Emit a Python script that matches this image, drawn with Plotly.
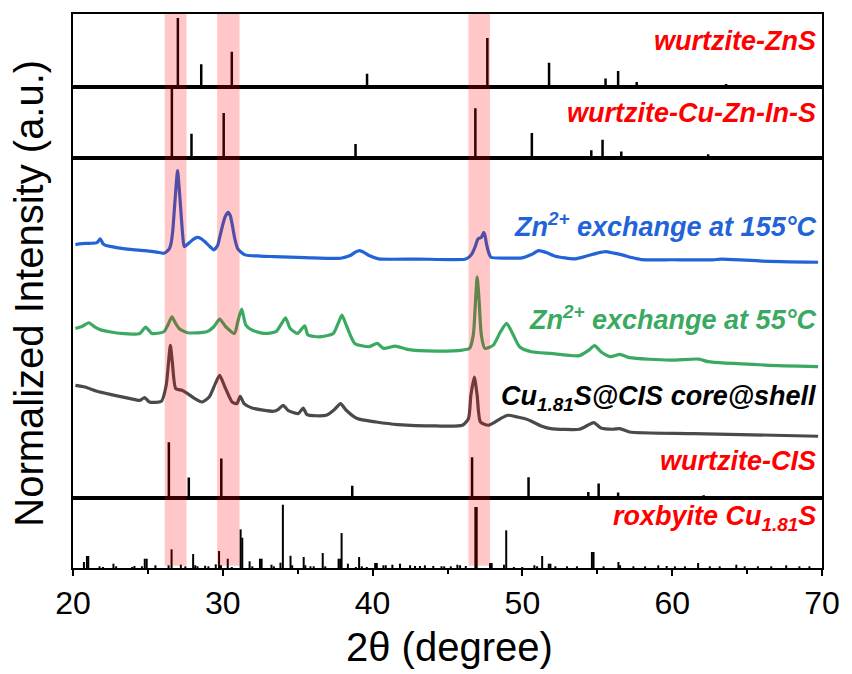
import plotly.graph_objects as go
from plotly.subplots import make_subplots

# ---------------- data ----------------
# reference stick patterns (2theta, relative intensity, 100 = strongest)
zns_pos = [27.0, 28.56, 30.6, 39.63, 47.66, 51.78, 55.55, 56.39, 57.63, 58.9, 63.6, 66.0, 69.4]
zns_int = [100, 33, 51, 19, 71, 35, 12, 23, 7, 1.5, 4, 1.5, 1.5]

czis_pos = [26.6, 27.91, 30.06, 38.86, 46.86, 50.63, 54.6, 55.35, 56.6, 57.5, 62.4, 64.4]
czis_int = [100, 35, 65, 20, 72, 36, 11, 26, 9, 1.5, 5, 1.5]

cis_pos = [26.4, 27.73, 29.9, 38.64, 46.64, 50.41, 54.4, 55.09, 56.39, 57.2, 62.1, 64.1]
cis_int = [100, 37, 71, 22, 73, 37.5, 11, 26, 10, 2, 5, 2]

rox_pos = [20.73, 20.93, 21.02, 21.77, 22.0, 22.7, 22.88, 23.95, 24.1, 24.6, 24.79, 24.92,
           25.5, 26.38, 26.58, 27.2, 27.5, 28.02, 28.16, 28.31, 28.82, 29.04, 29.53, 29.75,
           29.88, 30.33, 30.6, 31.19, 31.3, 31.79, 31.97, 32.48, 32.59, 33.25, 33.41, 33.85,
           34.01, 34.52, 34.63, 35.4, 35.51, 35.85, 36.07, 36.67, 36.84, 37.73, 37.84, 37.93,
           38.35, 38.88, 39.1, 39.28, 39.61, 40.17, 40.28, 40.72, 40.88, 41.32, 41.83, 42.5,
           42.83, 43.16, 43.49, 44.05, 44.6, 44.78, 45.22, 45.66, 45.84, 46.22, 46.86, 46.95,
           47.84, 47.95, 48.77, 48.92, 49.43, 49.99, 50.8, 50.98, 51.32, 51.76, 51.87, 52.2,
           52.98, 53.64, 54.64, 54.75, 55.42, 56.41, 56.52, 57.41, 58.19, 59.07, 59.63, 60.18,
           60.85, 61.73, 62.51, 63.17, 64.28, 64.84, 65.72, 66.61, 67.61, 68.49, 69.16]
rox_int = [9.5, 19, 19, 2.7, 1.6, 6.8, 2.7, 1.6, 3.2, 2.7, 14.7, 14.7,
           4.3, 4.3, 29.5, 5.2, 2.7, 22.1, 4.3, 2.7, 3.6, 2.7, 5.8, 26.9,
           4.3, 14.7, 1.6, 61.1, 47.9, 10.6, 2.7, 14.7, 14.7, 5.2, 2.7, 8.4,
           100, 19.4, 4.3, 17.4, 4.3, 2.7, 2.7, 23.7, 2.7, 14.7, 14.7, 55.3,
           6.8, 1.6, 17.4, 2.7, 1.6, 7.9, 7.9, 4.3, 4.3, 5.2, 6.8, 4.3,
           3.2, 3.2, 4.3, 3.2, 2.7, 2.7, 2.7, 5.2, 4.3, 3.2, 96.4, 96.4,
           7.9, 7.9, 5.2, 59.6, 1.6, 1.6, 4.3, 2.7, 19, 6.8, 6.8, 2.7,
           2.7, 2.7, 25.3, 25.3, 2.7, 9.5, 4.3, 2.7, 2.7, 4.3, 3.2, 2.7,
           2.7, 7.9, 2.7, 2.7, 5.2, 2.7, 2.7, 2.7, 4.3, 2.7, 2.7]

# measured patterns (normalized intensity, stacked with offsets)
blue_tt = [20.16, 20.6, 21.1, 21.6, 21.82, 22.0, 22.2, 22.6, 23.0, 24.0, 24.8, 25.6, 26.06, 26.4,
           26.54, 26.66, 26.76, 26.88, 26.98, 27.08, 27.2, 27.32, 27.43, 27.8, 28.05, 28.29,
           28.55, 28.77, 29.1, 29.4, 29.65, 29.82, 30.0, 30.14, 30.36, 30.5, 30.62, 30.8, 31.0,
           31.48, 32.5, 33.4, 35.5, 37.86, 38.5, 38.85, 39.13, 39.45, 39.77, 40.4, 43.0, 46.15,
           46.4, 46.63, 46.85, 47.04, 47.26, 47.42, 47.52, 47.6, 47.75, 47.9, 48.8, 49.97, 50.6,
           51.09, 51.6, 52.2, 53.5, 54.4, 55.0, 55.55, 56.1, 56.67, 57.3, 57.95, 60.0, 62.7,
           63.3, 66.0, 69.74]
blue_int = [254, 255, 255.3, 256, 259.7, 255, 253, 252, 250.7, 249, 248, 246.5, 245.3, 249,
            254.7, 268, 288, 312, 328, 312, 288, 264, 252, 256.3, 259.5, 261.3,
            260, 257.3, 252.5, 248.7, 253, 263, 274, 281.3, 286.3, 283, 274.7, 260, 249.7,
            243.7, 242.5, 242, 241, 240.3, 243, 246.5, 248, 246, 243, 239.7, 239.5, 239.3,
            241, 244.7, 252, 259.7, 261.3, 266.3, 262, 254.7, 246, 241.3, 240.5, 240.7, 244,
            248, 246, 242.3, 239.7, 243, 245.5, 247, 245.5, 243.7, 241, 239, 238.8, 238.7,
            239.5, 237.5, 236.3]

green_tt = [20.16, 20.6, 21.05, 21.5, 21.9, 23.2, 24.46, 24.85, 25.26, 26.06, 26.35, 26.6, 26.85,
            27.08, 27.65, 28.93, 29.4, 29.79, 30.2, 30.78, 31.0, 31.26, 31.54, 31.96, 32.76,
            33.55, 33.93, 34.19, 34.5, 34.99, 35.47, 35.69, 36.58, 37.38, 37.7, 37.95, 38.24,
            38.81, 39.77, 40.31, 40.73, 41.52, 42.32, 44.23, 45.99, 46.47, 46.72, 46.88, 46.98,
            47.1, 47.26, 47.49, 48.06, 48.54, 48.95, 49.34, 49.81, 50.6, 51.89, 53.8, 54.44,
            54.82, 55.24, 55.87, 56.51, 57.15, 59.86, 61.77, 62.4, 66.24, 69.74]
green_int = [170, 172, 175.7, 171, 168.3, 165, 165, 171.3, 165, 166.7, 174, 181.7, 175,
             170, 165.7, 166.7, 171.7, 179.3, 171.7, 165, 176.7, 189.3, 173.3, 168.3, 165,
             166.7, 175, 180.7, 170, 165, 172.7, 163.3, 161.7, 165, 175, 183.3, 173.3,
             155, 151.7, 155, 150, 152.3, 149, 147.3, 148.3, 150, 163.3, 200, 221.7,
             200, 163.3, 150, 153.3, 166.7, 175, 165, 151.7, 146.7, 145, 142.7, 148.3,
             152.7, 146.7, 141.7, 144, 140.7, 138.3, 139.3, 136.7, 133.3, 131.7]

gray_tt = [20.16, 20.8, 21.6, 22.55, 23.83, 24.46, 24.78, 25.1, 25.9, 26.22, 26.38, 26.5,
           26.63, 26.86, 27.27, 27.65, 28.13, 28.61, 29.09, 29.5, 29.79, 30.14, 30.62, 30.94,
           31.16, 31.42, 31.96, 33.39, 33.71, 34.03, 34.35, 35.05, 35.37, 35.62, 36.9, 37.47,
           37.86, 38.24, 38.97, 40.25, 41.68, 44.23, 45.99, 46.4, 46.56, 46.79, 46.98, 47.2,
           47.74, 48.54, 49.02, 49.66, 50.13, 50.61, 51.25, 51.89, 53.8, 54.37, 54.76, 55.24,
           56.03, 56.51, 57.15, 61.45, 69.74]
gray_int = [113, 111.3, 107, 103.7, 99.7, 98, 100.7, 96.3, 97, 113, 136.3, 153,
            136.3, 109.7, 108, 104.7, 99.7, 96.3, 101.3, 114.7, 123, 111.3, 96.3, 94.7,
            102, 94.7, 90.3, 87, 89, 93, 88, 84.7, 90.3, 83.7, 83, 89,
            94.7, 88, 79.7, 76.3, 73.7, 72.3, 73, 79.7, 103, 121.3, 103, 76.3,
            73, 79.7, 83, 81.3, 79.7, 77, 72.3, 69.7, 69, 73, 75.7, 70.3,
            69, 69.7, 66.3, 64.7, 62]

bands = [(26.12, 27.58), (29.62, 31.12), (46.4, 47.84)]
x_ticks = [20, 30, 40, 50, 60, 70]

# ---------------- figure ----------------
FONT = "Liberation Sans, Arial, Helvetica, sans-serif"
BLUE = "#2264D8"
GREEN = "#3AA962"
GRAY = "#4A4A4A"
RED = "#FF0000"


def sticks(pos, val):
    xs, ys = [], []
    for p, v in zip(pos, val):
        xs += [p, p, None]
        ys += [0, v, None]
    return xs, ys


fig = make_subplots(rows=4, cols=1, shared_xaxes=True, vertical_spacing=0,
                    row_heights=[73, 71, 341, 70])

x, y = sticks(zns_pos, zns_int)
fig.add_trace(go.Scatter(x=x, y=y, mode="lines", line=dict(color="black", width=2.5),
                         hoverinfo="skip"), row=1, col=1)
x, y = sticks(czis_pos, czis_int)
fig.add_trace(go.Scatter(x=x, y=y, mode="lines", line=dict(color="black", width=2.5),
                         hoverinfo="skip"), row=2, col=1)

curve_line = dict(width=3.2, shape="spline", smoothing=0.6)
fig.add_trace(go.Scatter(x=blue_tt, y=blue_int, mode="lines",
                         line=dict(color=BLUE, **curve_line)), row=3, col=1)
fig.add_trace(go.Scatter(x=green_tt, y=green_int, mode="lines",
                         line=dict(color=GREEN, **curve_line)), row=3, col=1)
fig.add_trace(go.Scatter(x=gray_tt, y=gray_int, mode="lines",
                         line=dict(color=GRAY, **curve_line)), row=3, col=1)

x, y = sticks(rox_pos, rox_int)
fig.add_trace(go.Scatter(x=x, y=y, mode="lines", line=dict(color="black", width=2),
                         hoverinfo="skip"), row=4, col=1)

# wurtzite-CIS sticks on an overlay axis in the main panel
x, y = sticks(cis_pos, cis_int)
fig.add_trace(go.Scatter(x=x, y=y, mode="lines", line=dict(color="black", width=2.5),
                         xaxis="x3", yaxis="y5", hoverinfo="skip"))

axis_common = dict(showline=True, mirror=True, linecolor="black", linewidth=2,
                   showgrid=False, zeroline=False)

for r in range(1, 5):
    fig.update_xaxes(range=[20, 70], ticks="", showticklabels=False, row=r, col=1, **axis_common)
    fig.update_yaxes(ticks="", showticklabels=False, row=r, col=1, **axis_common)

fig.update_xaxes(row=4, col=1, ticks="outside", ticklen=6, tickwidth=2, tickcolor="black",
                 showticklabels=True, tickvals=x_ticks,
                 tickfont=dict(family=FONT, size=32, color="black"),
                 minor=dict(dtick=5, tick0=20, ticks="outside", ticklen=4, tickwidth=2,
                            tickcolor="black"))

fig.update_yaxes(range=[0, 106], row=1, col=1)
fig.update_yaxes(range=[0, 103], row=2, col=1)
fig.update_yaxes(range=[0, 341], row=3, col=1)
fig.update_yaxes(range=[0, 110.6], row=4, col=1)

fig.update_layout(yaxis5=dict(overlaying="y3", anchor="x3", range=[0, 609], visible=False,
                              showgrid=False, zeroline=False))

shapes = []
for a, b in bands:
    shapes.append(dict(type="rect", xref="x4", yref="paper", x0=a, x1=b, y0=0.004, y1=1,
                       fillcolor="rgba(255,0,0,0.22)", line=dict(width=0), layer="above"))


def lab(text, ypx, color, size=27):
    return dict(text="<b><i>" + text + "</i></b>", xref="x4", x=69.75, xanchor="right",
                yref="paper", y=(568 - ypx) / 555, yanchor="middle", showarrow=False,
                font=dict(family=FONT, size=size, color=color))


annotations = [
    lab("wurtzite-ZnS", 40, RED),
    lab("wurtzite-Cu-Zn-In-S", 112, RED),
    lab("Zn<sup>2+</sup> exchange at 155°C", 224, BLUE),
    lab("Zn<sup>2+</sup> exchange at 55°C", 318, GREEN),
    lab("Cu<sub>1.81</sub>S@CIS core@shell", 398, "black"),
    lab("wurtzite-CIS", 461, RED),
    lab("roxbyite Cu<sub>1.81</sub>S", 518, RED),
    dict(text="2θ (degree)", xref="paper", x=(451.5 - 73) / 752, xanchor="center",
         yref="paper", y=-(647 - 568) / 555, yanchor="middle", showarrow=False,
         font=dict(family=FONT, size=40, color="black")),
    dict(text="Normalized Intensity (a.u.)", xref="paper", x=(29 - 73) / 752, xanchor="center",
         yref="paper", y=(568 - 293) / 555, yanchor="middle", textangle=-90, showarrow=False,
         font=dict(family=FONT, size=40, color="black")),
]

fig.update_layout(width=852, height=674, margin=dict(l=73, r=27, t=13, b=106),
                  paper_bgcolor="white", plot_bgcolor="white", showlegend=False,
                  shapes=shapes, annotations=annotations,
                  font=dict(family=FONT, color="black"))

fig.write_html("out.html")
